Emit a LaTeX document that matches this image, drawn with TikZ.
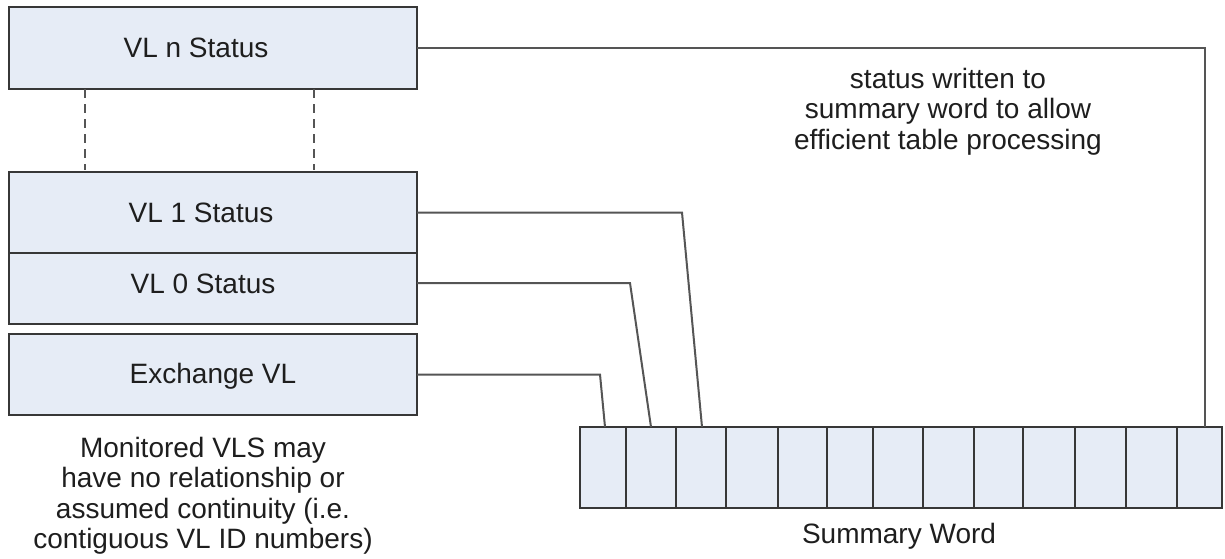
\documentclass[tikz,border=0pt]{standalone}
\usepackage{fontspec}
\setmainfont{Liberation Sans}
\usetikzlibrary{calc}
\definecolor{cellfill}{RGB}{230,236,246}
\definecolor{edgeline}{RGB}{55,55,55}
\definecolor{wire}{RGB}{85,85,85}
\definecolor{ink}{RGB}{30,30,30}
\begin{document}
\begin{tikzpicture}[x=1pt,y=-1pt,
  vlbox/.style={draw=edgeline,fill=cellfill,line width=2pt,inner sep=0pt,outer sep=0pt,
    minimum width=408pt,anchor=north west},
  bitcell/.style={draw=edgeline,fill=cellfill,line width=2pt,inner sep=0pt,outer sep=0pt,
    minimum height=81pt,anchor=north west},
  lbl/.style={text=ink,font=\fontsize{28}{31}\selectfont,inner sep=0pt,anchor=base},
  note/.style={text=ink,font=\fontsize{28}{30.5}\selectfont,inner sep=0pt,align=center,anchor=base},
  link/.style={draw=wire,line width=2pt},
  gap/.style={draw=wire,line width=2pt,dash pattern=on 9pt off 6pt}]
\useasboundingbox (0,0) rectangle (1225,558);
\fill[white] (0,0) rectangle (1225,558);

% status entries
\node[vlbox,minimum height=82pt] (vln) at (9,7) {};
\node[vlbox,minimum height=81pt] (vl1) at (9,172) {};
\node[vlbox,minimum height=71pt] (vl0) at (9,253) {};
\node[vlbox,minimum height=81pt] (exch) at (9,334) {};

\node[lbl] (tn) at (196,57) {VL n Status};
\node[lbl] (t1) at (201,222) {VL 1 Status};
\node[lbl] (t0) at (203,293) {VL 0 Status};
\node[lbl] (tx) at (213,383) {Exchange VL};

% omitted entries between VL 1 and VL n
\coordinate (g1a) at (85,89);
\coordinate (g1b) at (85,170);
\coordinate (g2a) at (314,89);
\coordinate (g2b) at (314,170);
\draw[gap] (g1a) -- (g1b);
\draw[gap] (g2a) -- (g2b);

% summary word cells
\foreach \i/\xa/\xb in {1/580/626,2/626/676,3/676/726,4/726/778,5/778/827,6/827/873,
  7/873/923,8/923/974,9/974/1023,10/1023/1075,11/1075/1126,12/1126/1177,13/1177/1222}{
  \node[bitcell,minimum width={\xb-\xa}] (c\i) at (\xa,427) {};
}

% connectors
\coordinate (k1) at (682,212.5);
\coordinate (k0) at (630,283);
\coordinate (kx) at (600,374.5);
\draw[link] (vln.east) -| ([xshift=5pt]c13.north);
\draw[link] (vl1.east) -- (k1) -- ([xshift=1pt]c3.north);
\draw[link] ([yshift=5.5pt]vl0.east) -- (k0) -- (c2.north);
\draw[link] (exch.east) -- (kx) -- ([xshift=2pt]c1.north);

% notes
\node[note] (sw) at (899,543) {Summary Word};
\node[note] (n1) at (948,88) {status written to};
\node[note] (n2) at (948,118.5) {summary word to allow};
\node[note] (n3) at (948,149) {efficient table processing};
\node[note] (m1) at (203,457) {Monitored VLS may};
\node[note] (m2) at (203,487.5) {have no relationship or};
\node[note] (m3) at (203,518) {assumed continuity (i.e.};
\node[note] (m4) at (203,548) {contiguous VL ID numbers)};
\end{tikzpicture}
\end{document}
